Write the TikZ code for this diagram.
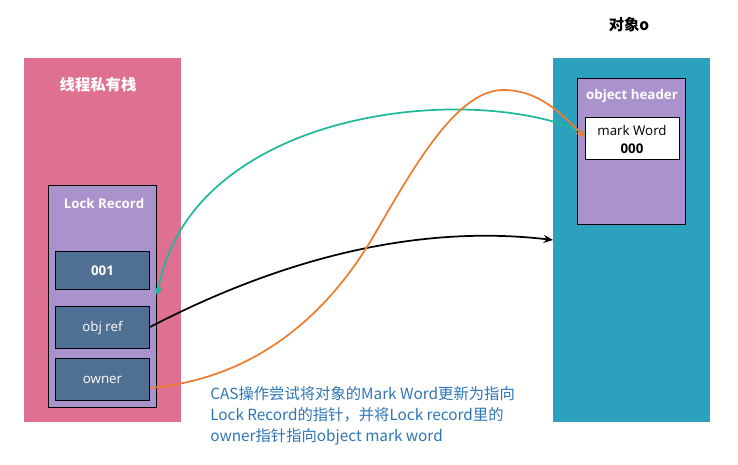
\documentclass[tikz,border=0pt]{standalone}
\usepackage{fontspec}
\setmainfont{Open Sans}
\newfontfamily\cjk{Noto Sans CJK SC}
\usetikzlibrary{arrows.meta}
\definecolor{pinkbg}{RGB}{222,112,146}
\definecolor{tealbg}{RGB}{44,161,190}
\definecolor{purp}{RGB}{170,146,204}
\definecolor{slate}{RGB}{79,112,146}
\definecolor{tealarr}{RGB}{32,184,154}
\definecolor{orangearr}{RGB}{237,125,49}
\definecolor{noteblue}{RGB}{46,117,182}
\tikzset{
  bigpanel/.style={draw=none, anchor=north west, inner sep=0pt},
  innerbox/.style={draw=black, line width=0.75pt, fill=purp, anchor=north west, inner sep=0pt},
  slotbox/.style={draw=black, line width=0.75pt, fill=slate, anchor=north west, inner sep=0pt, text=white, font=\fontsize{10}{12}\selectfont},
  titletext/.style={text=white, font=\cjk\bfseries\fontsize{11.5}{14}\selectfont},
  boxtitle/.style={text=white, font=\bfseries\fontsize{10}{12}\selectfont},
  conn/.style={line width=1.3pt, -{Stealth[length=7pt,width=6pt]}},
}
\begin{document}
\begin{tikzpicture}[x=0.75pt,y=-0.75pt]
\useasboundingbox (0,0) rectangle (738,464);
% left panel
\node[bigpanel, fill=pinkbg, minimum width=157*0.75pt, minimum height=364*0.75pt] (stack) at (24,58) {};
\node[titletext] (stacktitle) at (98,85) {线程私有栈};
\node[innerbox, minimum width=108*0.75pt, minimum height=222*0.75pt] (lr) at (48,185) {};
\node[boxtitle] (lrtitle) at (104,203) {Lock Record};
\node[slotbox, minimum width=94*0.75pt, minimum height=38*0.75pt, font=\bfseries\fontsize{10}{12}\selectfont] (s001) at (55,251) {001};
\node[slotbox, minimum width=94*0.75pt, minimum height=42*0.75pt] (objref) at (55,306) {obj ref};
\node[slotbox, minimum width=94*0.75pt, minimum height=42*0.75pt] (owner) at (55,358) {owner};
% right panel
\node[font=\cjk\bfseries\fontsize{11.5}{14}\selectfont] (objtitle) at (629,25) {对象o};
\node[bigpanel, fill=tealbg, minimum width=157*0.75pt, minimum height=364*0.75pt] (obj) at (553,58) {};
\node[innerbox, minimum width=108*0.75pt, minimum height=146*0.75pt] (hdr) at (577,78) {};
\node[boxtitle] (hdrtitle) at (632,96) {object header};
\node[draw=black, line width=0.75pt, fill=white, anchor=north west, minimum width=94*0.75pt, minimum height=42*0.75pt, inner sep=0pt] (mw) at (585,117) {};
\node[font=\fontsize{10}{12}\selectfont] (mwtext) at (632,130) {mark Word};
\node[font=\bfseries\fontsize{10}{12}\selectfont] (mw000) at (632,149) {000};
% connector anchors
\coordinate (tealstart) at (585,133);
\coordinate (tealend) at (157,296);
\coordinate (orstart) at (150,388);
\coordinate (ormid) at (373,237);
\coordinate (orpeak) at (503,90);
\coordinate (orend) at (585,137);
\coordinate (bkstart) at (150,327);
\coordinate (bkend) at (553,240);
% connectors
\draw[conn, draw=black] (bkstart) .. controls (260,270) and (400,222) .. (bkend);
\draw[conn, draw=tealarr] (tealstart) .. controls (470,80) and (190,110) .. (tealend);
\draw[conn, draw=orangearr] (orstart) .. controls (260,378) and (330,310) .. (ormid)
  .. controls (410,174) and (455,90) .. (orpeak)
  .. controls (540,90) and (562,115) .. (orend);
% note
\node[anchor=north west, align=left, text=noteblue, inner sep=0pt, font=\cjk\fontsize{11.5}{16}\selectfont] (note) at (210,386)
 {CAS操作尝试将对象的Mark Word更新为指向\\Lock Record的指针，并将Lock record里的\\owner指针指向object mark word};
\end{tikzpicture}
\end{document}
